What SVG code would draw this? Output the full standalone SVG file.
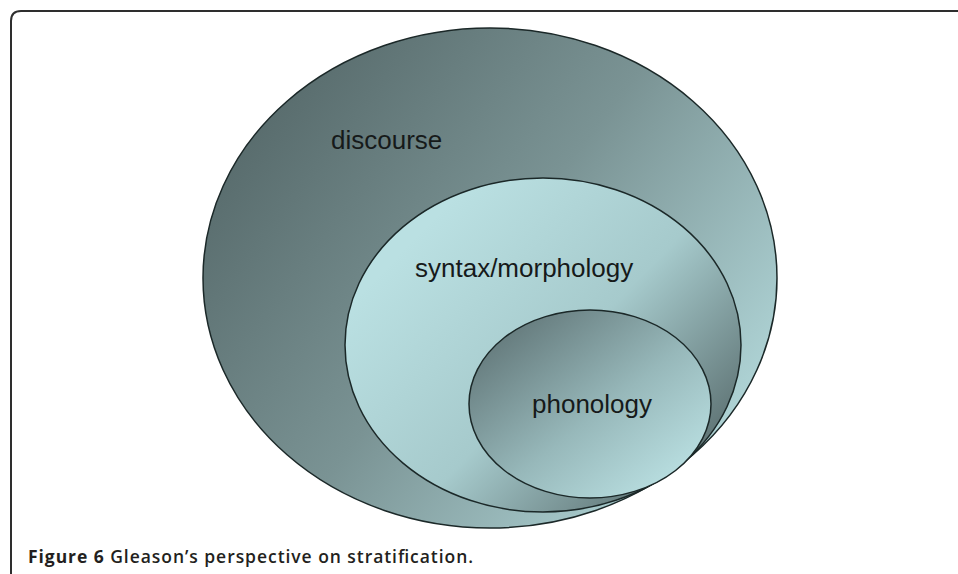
<svg xmlns="http://www.w3.org/2000/svg" width="958" height="574" viewBox="0 0 958 574">
  <defs>
    <linearGradient id="gOuter" x1="0.1" y1="0.1" x2="1" y2="0.7">
      <stop offset="0" stop-color="#56696a"/>
      <stop offset="0.5" stop-color="#7a9394"/>
      <stop offset="1" stop-color="#b0d5d7"/>
    </linearGradient>
    <linearGradient id="gMiddle" x1="0.2" y1="0.15" x2="1" y2="0.8">
      <stop offset="0" stop-color="#bae0e2"/>
      <stop offset="0.5" stop-color="#a6cacc"/>
      <stop offset="1" stop-color="#56696a"/>
    </linearGradient>
    <linearGradient id="gInner" x1="0.1" y1="0.1" x2="0.9" y2="0.9">
      <stop offset="0" stop-color="#627779"/>
      <stop offset="0.55" stop-color="#97b8ba"/>
      <stop offset="1" stop-color="#bbe1e3"/>
    </linearGradient>
    <style>
      .layer { stroke: #1b2828; stroke-width: 1.5; }
      .label { font-family: "Liberation Sans", Arial, sans-serif; font-size: 26px; fill: #161a1a; }
      .caption { font-family: "Open Sans", "Liberation Sans", sans-serif; font-size: 17.5px; font-weight: 700; fill: #231f20; }
    </style>
  </defs>

  <!-- panel frame -->
  <path d="M11,574 V21 Q11,11 21,11 H958" fill="none" stroke="#2e2e2e" stroke-width="2"/>

  <g id="discourse">
    <ellipse class="layer" cx="490" cy="278" rx="287" ry="250" fill="url(#gOuter)"/>
    <text class="label" x="331" y="149">discourse</text>
  </g>

  <g id="syntax-morphology">
    <ellipse class="layer" cx="543" cy="345" rx="198" ry="167" fill="url(#gMiddle)"/>
    <text class="label" x="415" y="277">syntax/morphology</text>
  </g>

  <g id="phonology">
    <ellipse class="layer" cx="590" cy="404" rx="121" ry="94" fill="url(#gInner)"/>
    <text class="label" x="532" y="413">phonology</text>
  </g>

  <g id="connectors"/>

  <text class="caption" x="28" y="563" textLength="445" lengthAdjust="spacing">Figure 6 <tspan font-weight="600">Gleason’s perspective on stratification.</tspan></text>
</svg>
